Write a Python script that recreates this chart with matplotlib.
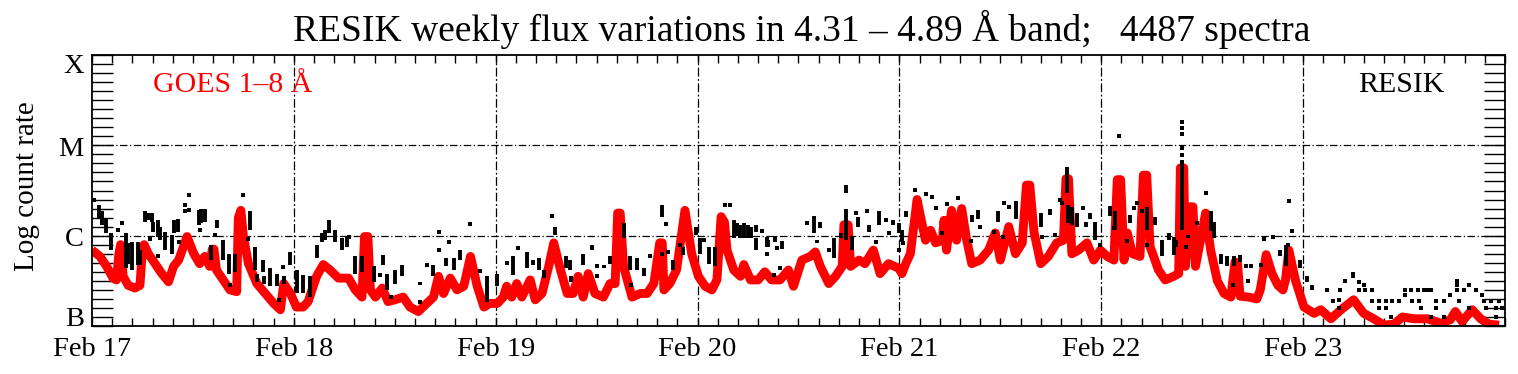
import matplotlib
matplotlib.use("Agg")
import matplotlib.pyplot as plt
from matplotlib.ticker import MultipleLocator

plt.rcParams["font.family"] = ["Liberation Serif", "DejaVu Serif"]

# time axis: hours since Feb 17 00:00 UT; level: decades above the B class (log flux + 7)
day_labels = ["Feb 17", "Feb 18", "Feb 19", "Feb 20", "Feb 21", "Feb 22", "Feb 23"]
class_labels = ["B", "C", "M", "X"]

goes_hour = [
    0.0, 0.95, 1.74, 2.5, 2.9, 3.2, 3.4, 3.7, 4.3, 5.1, 5.7, 6.0, 6.2, 6.7, 7.5, 8.3, 9.1, 9.7,
    10.3, 11.3, 12.1, 12.8, 13.4, 14.0, 14.3, 14.5, 14.8, 15.6, 16.4, 17.2, 17.4, 17.7, 18.0,
    18.6, 19.6, 20.6, 21.6, 22.4, 22.8, 23.6, 24.3, 25.1, 25.7, 26.7, 27.5, 28.3, 29.3, 30.5,
    31.3, 32.1, 32.4, 32.8, 33.1, 33.7, 34.5, 35.2, 36.0, 37.0, 37.8, 38.8, 39.8, 40.6, 41.2,
    41.8, 42.6, 43.4, 44.2, 45.0, 45.8, 46.6, 47.3, 48.2, 48.9, 49.3, 49.9, 50.5, 51.1, 52.1,
    52.7, 53.5, 54.3, 54.9, 55.7, 56.5, 57.2, 57.8, 58.4, 59.0, 59.8, 60.8, 61.6, 62.2, 62.5,
    62.8, 63.2, 64.2, 65.2, 66.0, 66.8, 67.5, 67.8, 68.0, 68.7, 69.5, 70.5, 71.3, 72.1, 72.9,
    73.7, 74.3, 74.8, 75.2, 75.5, 76.3, 77.1, 77.5, 78.3, 79.2, 80.0, 80.8, 81.8, 82.8, 83.4,
    84.4, 85.4, 86.0, 86.6, 87.6, 88.4, 89.2, 89.4, 89.9, 90.2, 91.2, 91.9, 92.9, 93.7, 94.7,
    95.9, 96.3, 96.8, 97.3, 98.1, 98.6, 99.1, 99.7, 100.3, 101.1, 101.3, 101.6, 102.2, 102.8,
    103.4, 104.0, 104.6, 105.6, 106.6, 107.4, 108.0, 109.0, 109.8, 110.6, 111.1, 111.5, 112.0,
    112.8, 113.7, 114.7, 115.5, 115.8, 116.1, 116.5, 117.3, 118.3, 119.1, 119.9, 120.7, 121.5,
    121.9, 122.3, 122.7, 123.1, 123.7, 124.6, 125.0, 125.4, 125.8, 126.8, 127.6, 128.6, 129.2,
    129.4, 129.8, 130.0, 130.6, 130.9, 131.2, 131.8, 132.4, 133.0, 133.8, 134.6, 135.4, 135.9,
    136.2, 136.5, 137.5, 138.5, 138.9, 139.6, 140.3, 141.0, 141.6, 141.9, 142.3, 143.1, 144.1,
    145.3, 146.1, 147.3, 148.5, 150.0, 151.2, 152.4, 153.6, 154.8, 155.8, 157.2, 158.8, 160.4,
    161.5, 162.1, 162.9, 164.1, 165.1, 166.1, 167.3,
]
goes_lvl = [
    0.84, 0.77, 0.66, 0.53, 0.51, 0.80, 0.90, 0.55, 0.45, 0.42, 0.45, 0.85, 0.90, 0.80, 0.69, 0.58, 0.49, 0.66,
    0.73, 0.99, 0.80, 0.69, 0.77, 0.66, 0.85, 0.85, 0.62, 0.51, 0.40, 0.38, 1.20, 1.28, 0.99,
    0.69, 0.47, 0.36, 0.25, 0.18, 0.47, 0.36, 0.21, 0.21, 0.27, 0.55, 0.68, 0.62, 0.53, 0.53,
    0.40, 0.32, 0.99, 0.99, 0.40, 0.32, 0.42, 0.27, 0.29, 0.32, 0.21, 0.16, 0.25, 0.32, 0.55,
    0.36, 0.53, 0.40, 0.44, 0.77, 0.44, 0.21, 0.25, 0.25, 0.32, 0.44, 0.32, 0.47, 0.32, 0.51,
    0.29, 0.36, 0.66, 0.92, 0.62, 0.36, 0.36, 0.55, 0.32, 0.58, 0.36, 0.32, 0.47, 0.47, 1.25,
    1.25, 0.66, 0.32, 0.36, 0.36, 0.47, 0.92, 0.92, 0.40, 0.47, 0.62, 1.28, 0.80, 0.55, 0.44,
    0.40, 0.51, 1.21, 1.15, 0.84, 0.62, 0.55, 0.68, 0.51, 0.51, 0.60, 0.51, 0.51, 0.62, 0.44,
    0.73, 0.77, 0.82, 0.66, 0.47, 0.55, 0.66, 1.12, 1.12, 0.66, 0.73, 0.69, 0.84, 0.58, 0.69,
    0.64, 0.58, 0.70, 0.80, 1.40, 1.17, 0.95, 1.06, 0.92, 0.95, 1.17, 0.84, 1.28, 0.95,
    1.30, 0.95, 0.69, 0.73, 0.84, 1.03, 0.73, 1.10, 0.80, 0.92, 1.56, 1.56, 1.04,
    0.69, 0.77, 0.92, 0.95, 1.63, 1.63, 0.80, 0.84, 0.92, 0.73, 0.84, 0.77, 0.73,
    1.62, 1.62, 0.73, 1.03, 0.80, 0.77, 1.67, 1.67, 0.88, 0.62, 0.51, 0.55, 0.58,
    1.75, 1.75, 0.66, 1.32, 1.32, 0.66, 0.95, 1.25, 0.84, 0.50, 0.36, 0.32, 0.71,
    0.69, 0.33, 0.32, 0.30, 0.40, 0.79, 0.58, 0.45, 0.40, 0.51, 0.84, 0.50, 0.21,
    0.14, 0.18, 0.08, 0.18, 0.29, 0.14, 0.08, 0.01, 0.02, 0.10, 0.08, 0.08, 0.03,
    0.07, 0.16, 0.05, 0.18, 0.08, 0.02, 0.01,
]

# RESIK spectra: stacks of many spectra (time, lowest level, highest level)
stack_hour = [
    0.8, 1.2, 1.7, 2.3, 4.0, 4.3, 4.8, 5.5, 5.7, 6.3, 6.7, 7.1, 7.3, 7.9, 8.1, 8.7, 9.5, 9.7, 10.2,
    11.5, 12.7, 13.0, 13.4, 14.2, 14.9, 15.6, 16.3, 17.0, 18.8, 19.4, 19.6, 20.3, 20.5, 21.2, 22.0,
    22.8, 23.6, 24.4, 25.1, 25.9, 26.7, 27.3, 27.7, 28.2, 28.9, 29.7, 30.3, 31.3, 32.1, 33.5, 34.6,
    35.1, 36.0, 36.8, 39.0, 40.6, 42.1, 43.0, 43.8, 47.0, 48.1, 50.0, 51.7, 52.4, 53.2, 53.8, 55.1,
    56.3, 56.8, 57.0, 58.4, 59.4, 60.0, 60.9, 61.6, 63.2, 64.0, 64.8, 65.6, 67.8, 67.8, 69.1, 70.3,
    71.8, 72.3, 73.3, 74.1, 76.3, 76.7, 77.1, 77.5, 78.0, 78.3, 78.9, 79.0, 80.2, 80.4, 81.2, 82.0,
    85.8, 86.5, 86.2, 88.2, 89.0, 89.6, 89.6, 90.4, 91.1, 92.1, 92.4, 93.6, 95.2, 96.0, 96.8, 96.3,
    99.9, 104.6, 105.3, 107.7, 109.9, 112.8, 113.9, 115.9, 116.1, 116.5, 117.1, 118.2, 118.7, 119.3,
    121.0, 121.6, 123.4, 125.4, 126.4, 127.2, 128.0, 128.6, 128.9, 129.6, 130.3, 133.0, 133.4, 134.2,
    134.9, 135.8, 136.5, 137.2, 137.8, 141.2, 142.0, 143.6, 144.4, 145.1, 149.9,
]
stack_lo = [
    1.20, 1.12, 1.03, 0.84, 0.64, 0.69, 0.62, 0.68, 0.68, 1.15, 1.17, 1.15, 1.04, 0.99, 0.95, 0.84, 0.80, 1.03, 1.04,
    1.43, 1.12, 1.14, 1.15, 0.73, 1.08, 0.73, 0.58, 0.60, 1.06, 0.62, 0.49, 0.60, 0.47, 0.44, 0.44,
    0.47, 0.68, 0.36, 0.36, 0.32, 0.75, 0.93, 0.95, 1.03, 0.93, 0.84, 0.88, 0.58, 0.60, 0.49, 0.68,
    0.40, 0.47, 0.55, 0.45, 0.55, 0.66, 0.62, 0.73, 0.27, 0.44, 0.56, 0.64, 0.68, 0.62, 0.53, 1.01,
    0.64, 0.62, 0.49, 0.68, 0.84, 0.64, 0.64, 0.69, 0.97, 0.62, 0.62, 0.55, 1.21, 0.77, 0.62, 0.79,
    1.01, 0.80, 0.69, 0.66, 0.97, 1.00, 0.97, 0.97, 0.97, 0.97, 1.04, 0.84, 0.88, 0.88, 0.93, 0.85,
    1.03, 1.08, 0.92, 0.75, 0.97, 1.47, 0.95, 0.84, 1.10, 1.25, 1.04, 1.12, 1.12, 1.03, 1.21, 0.93,
    1.41, 1.15, 1.19, 1.15, 1.18, 1.10, 1.23, 1.47, 1.14, 1.12, 1.10, 1.10, 1.19, 0.95,
    1.22, 1.06, 1.14, 1.06, 1.12, 0.77, 0.95, 0.79, 0.88, 1.06, 0.97, 1.05, 0.97, 0.69,
    0.66, 0.66, 0.71, 0.64, 0.64, 0.77, 0.66, 0.64, 0.49, 0.40, 0.53,
]
stack_hi = [
    1.34, 1.27, 1.19, 1.03, 1.03, 0.92, 0.93, 0.93, 0.84, 1.27, 1.25, 1.25, 1.15, 1.17, 1.10, 1.04, 1.01, 1.17, 1.19,
    1.47, 1.28, 1.30, 1.30, 0.90, 1.17, 0.95, 0.80, 0.80, 1.27, 0.88, 0.58, 0.73, 0.55, 0.64, 0.58,
    0.55, 0.82, 0.62, 0.56, 0.55, 0.90, 1.03, 1.06, 1.17, 1.06, 0.97, 0.99, 0.77, 0.77, 0.66, 0.79,
    0.58, 0.62, 0.68, 0.49, 0.68, 0.75, 0.75, 0.84, 0.55, 0.58, 0.77, 0.82, 0.73, 0.75, 0.62, 1.10,
    0.77, 0.73, 0.55, 0.80, 0.90, 0.69, 0.68, 0.77, 1.14, 0.77, 0.75, 0.64, 1.34, 0.82, 0.73, 0.88,
    1.10, 0.97, 0.88, 0.88, 1.17, 1.14, 1.12, 1.14, 1.12, 1.10, 1.12, 0.97, 0.98, 0.95, 1.00, 0.94,
    1.22, 1.15, 0.95, 0.97, 1.03, 1.56, 1.30, 1.00, 1.21, 1.29, 1.12, 1.27, 1.17, 1.14, 1.27, 1.06,
    1.45, 1.23, 1.28, 1.27, 1.38, 1.25, 1.30, 1.76, 1.34, 1.32, 1.25, 1.15, 1.25, 1.15,
    1.33, 1.27, 1.23, 1.32, 1.21, 0.95, 1.03, 0.99, 0.95, 1.80, 1.01, 1.27, 1.15, 0.80,
    0.77, 0.77, 0.79, 0.69, 0.69, 0.84, 0.90, 0.73, 0.55, 0.45, 0.60,
]

# RESIK spectra: isolated points
dot_hour = [
    0.2, 3.1, 3.6, 6.9, 7.9, 10.4, 11.1, 11.1, 11.5, 12.8, 14.6, 16.4, 18.0, 18.6, 22.7, 22.2,
    30.6, 34.3, 35.6, 39.0, 39.8, 41.2, 41.2, 42.5, 45.0, 46.1, 49.3, 50.6, 54.7, 60.1, 64.1,
    66.3, 68.3, 68.5, 69.9, 72.8, 75.3, 75.9, 79.7, 80.2, 81.5, 81.8, 81.1, 85.0, 87.6, 90.8,
    93.2, 94.4, 94.8, 95.9, 96.4, 97.8, 99.1, 100.3, 101.7, 101.1, 103.0, 105.6, 104.5, 107.2,
    108.4, 108.3, 109.0, 113.0, 114.5, 115.1, 115.3, 117.8, 119.8, 122.1, 121.5, 123.1, 123.9,
    124.3, 124.8, 125.4, 129.6, 129.6, 129.6, 129.6, 129.6, 129.6, 130.1, 131.4, 132.4, 135.7,
    137.5, 139.0, 139.4, 140.4, 142.3, 142.2, 142.7, 146.8, 147.5, 148.4, 148.3, 148.3, 149.0,
    150.6, 150.6, 151.2, 151.4, 152.2, 152.2, 153.0, 153.0, 153.8, 153.8, 154.4, 154.6, 155.4,
    156.1, 156.1, 156.8, 157.0, 157.6, 157.8, 158.0, 158.4, 158.8, 159.2, 159.2, 159.8, 159.8,
    160.7, 160.7, 161.5, 162.3, 162.3, 162.3, 162.5, 163.1, 163.7, 163.7, 164.5, 165.3, 165.5,
    165.8, 166.3, 166.9, 166.9, 167.3, 167.7,
]
dot_lvl = [
    1.40, 1.06, 1.14, 0.96, 0.77, 0.93, 1.34, 1.27, 1.28, 1.06, 1.01, 0.45, 1.45, 0.96, 0.65, 0.29,
    0.98, 0.56, 0.32, 0.27, 0.68, 1.04, 0.84, 0.93, 1.13, 0.61, 0.70, 0.86, 1.22, 0.55, 0.45,
    0.77, 1.13, 0.82, 0.90, 0.95, 1.34, 1.34, 1.05, 0.80, 0.86, 0.64, 0.56, 1.14, 0.84, 1.25,
    0.93, 1.17, 1.03, 0.84, 0.92, 1.51, 1.46, 1.31, 1.35, 1.03, 1.42, 1.10, 0.94, 1.04,
    1.36, 0.98, 1.32, 0.98, 1.01, 1.40, 1.36, 1.31, 0.90, 2.10, 1.08, 0.94, 1.31,
    1.36, 1.27, 0.90, 1.82, 1.89, 1.97, 2.12, 2.19, 2.26, 0.88, 1.14, 1.47, 0.45,
    0.50, 0.68, 0.96, 0.98, 1.38, 0.90, 1.05, 0.40, 0.28, 0.40, 0.29, 0.20, 0.50,
    0.49, 0.40, 0.45, 0.40, 0.40, 0.28, 0.28, 0.20, 0.28, 0.20, 0.10, 0.28, 0.28,
    0.40, 0.34, 0.40, 0.28, 0.40, 0.28, 0.20, 0.40, 0.40, 0.40, 0.10, 0.28, 0.20,
    0.28, 0.10, 0.34, 0.50, 0.45, 0.40, 0.28, 0.40, 0.45, 0.20, 0.40, 0.34, 0.28,
    0.20, 0.28, 0.20, 0.10, 0.28, 0.20,
]

W, H = 1518, 374
fig = plt.figure(figsize=(W / 100, H / 100), dpi=100)
ax = fig.add_axes([92 / W, 1 - 326 / H, 1413 / W, 271 / H])

ax.plot(goes_hour, goes_lvl, color="red", lw=6.4, solid_joinstyle="round",
        solid_capstyle="butt", zorder=2)
ax.vlines(stack_hour, stack_lo, stack_hi, color="black", lw=2.8, zorder=3)
ax.scatter(dot_hour, dot_lvl, s=9, marker="s", color="black", lw=0, zorder=3)

ax.set_xlim(0, 168)
ax.set_ylim(0, 3)

# grid: day lines and the C/M class levels
for d in range(1, 7):
    ax.axvline(24 * d, color="black", lw=0.9, ls=(0, (7, 2, 1.5, 2)), zorder=1)
for lv in (1, 2):
    ax.axhline(lv, color="black", lw=0.9, ls=(0, (6, 2, 1, 2)), zorder=1)

ax.set_xticks(range(0, 168, 24))
ax.xaxis.set_minor_locator(MultipleLocator(2.4))
ax.set_xticklabels(day_labels, fontsize=20.5)
ax.tick_params(axis="x", which="both", direction="in", top=True, bottom=True,
               length=6, width=1, pad=8)

ax.yaxis.set_major_locator(MultipleLocator(1))
ax.yaxis.set_minor_locator(MultipleLocator(0.1))
ax.tick_params(axis="y", which="both", direction="in", left=True, right=True,
               length=15, width=1, labelleft=False)
for s in ax.spines.values():
    s.set_linewidth(1.3)

trans = ax.get_yaxis_transform()
for lab, yb in zip(class_labels, [0.0, 0.886, 1.88, 2.80]):
    ax.text(-0.0057, yb, lab, transform=trans, ha="right", va="baseline", fontsize=20.5)

ax.text(0.0432, 0.8635, "GOES 1–8 Å", transform=ax.transAxes, color="red",
        fontsize=21.5, ha="left", va="baseline")
ax.text(0.9575, 0.8635, "RESIK", transform=ax.transAxes, color="black",
        fontsize=21.5, ha="right", va="baseline")

fig.text(27 / W, 1 - 186 / H, "Log count rate", rotation=90, ha="center", va="center",
         fontsize=21)
fig.text(802 / W, 1 - 41 / H,
         "RESIK weekly flux variations in 4.31 – 4.89 Å band;   4487 spectra",
         ha="center", va="baseline", fontsize=27)

fig.savefig("out.png", dpi=100)
